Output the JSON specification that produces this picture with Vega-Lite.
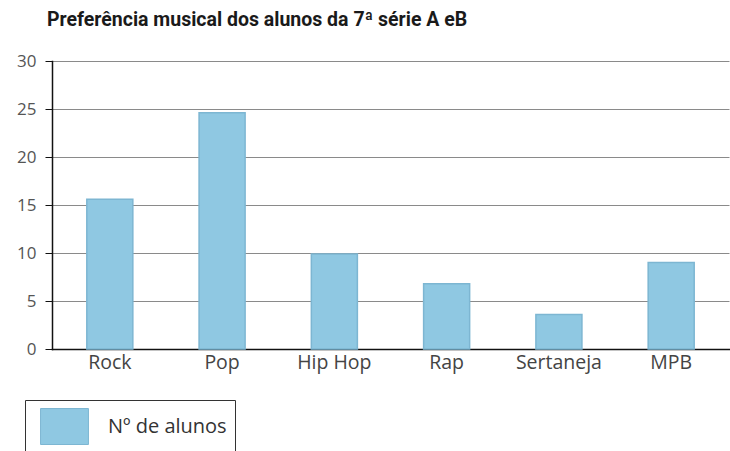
{
  "$schema": "https://vega.github.io/schema/vega-lite/v6.json",
  "autosize": "none",
  "width": 677,
  "height": 288,
  "padding": {"left": 52, "top": 61, "right": 1, "bottom": 102},
  "background": "white",
  "title": {
    "text": "Preferência musical dos alunos da 7ª série A eB",
    "anchor": "start",
    "frame": "group",
    "dx": -5,
    "offset": 22,
    "font": "Roboto",
    "fontSize": 19.5,
    "fontWeight": "bold",
    "color": "#1a1a1a"
  },
  "data": {
    "values": [
      {"genero": "Rock", "alunos": 15.6},
      {"genero": "Pop", "alunos": 24.6},
      {"genero": "Hip Hop", "alunos": 9.9},
      {"genero": "Rap", "alunos": 6.8},
      {"genero": "Sertaneja", "alunos": 3.6},
      {"genero": "MPB", "alunos": 9}
    ]
  },
  "mark": {"type": "bar", "stroke": "#7db6d2", "strokeWidth": 1.5},
  "encoding": {
    "x": {
      "field": "genero",
      "type": "nominal",
      "sort": null,
      "scale": {"paddingInner": 0.59, "paddingOuter": 0.31},
      "axis": {
        "title": null,
        "labelAngle": 0,
        "ticks": false,
        "domainColor": "#111",
        "domainWidth": 1.5,
        "labelFont": "Open Sans",
        "labelFontSize": 19.5,
        "labelColor": "#444",
        "labelPadding": 4
      }
    },
    "y": {
      "field": "alunos",
      "type": "quantitative",
      "scale": {"domain": [0, 30]},
      "axis": {
        "title": null,
        "values": [0, 5, 10, 15, 20, 25, 30],
        "tickSize": 7,
        "tickColor": "#111",
        "domainColor": "#111",
        "domainWidth": 1.5,
        "gridColor": "#8a8a8a",
        "gridWidth": 1,
        "labelFont": "Open Sans",
        "labelFontSize": 17,
        "labelColor": "#555",
        "labelPadding": 9
      }
    },
    "color": {
      "datum": "Nº de alunos",
      "scale": {"range": ["#8fc8e2"]},
      "legend": {
        "title": null,
        "orient": "none",
        "legendX": -27,
        "legendY": 339,
        "padding": 8,
        "strokeColor": "#333",
        "symbolType": "M-1.33,-1L1.33,-1L1.33,1L-1.33,1Z",
        "symbolSize": 1296,
        "symbolOffset": 13,
        "symbolStrokeColor": "#7db6d2",
        "symbolStrokeWidth": 1,
        "labelFont": "Open Sans",
        "labelFontSize": 20,
        "labelColor": "#333",
        "labelOffset": 25,
        "fillColor": "white"
      }
    }
  },
  "config": {
    "view": {"stroke": null},
    "axis": {"domainCap": "square"}
  }
}
